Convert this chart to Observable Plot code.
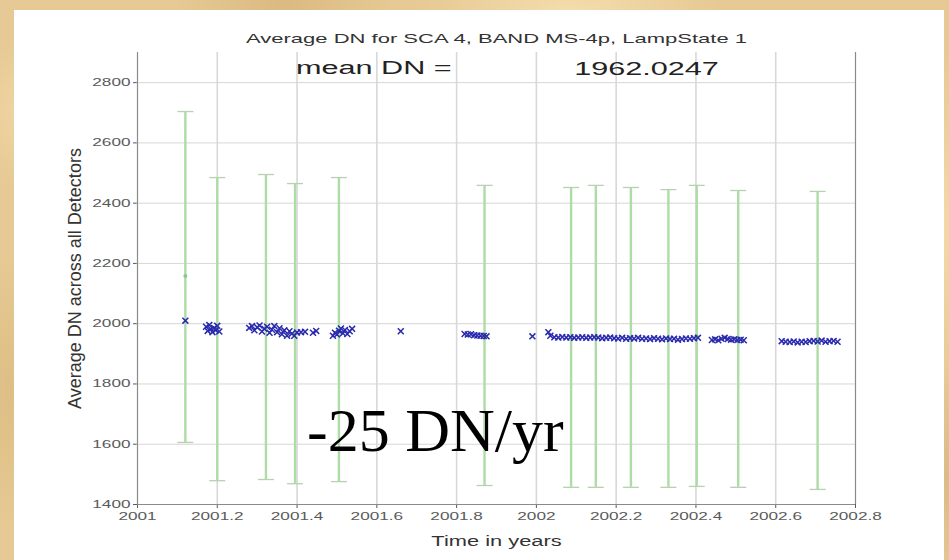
<!DOCTYPE html>
<html>
<head>
<meta charset="utf-8">
<script src="https://cdn.jsdelivr.net/npm/d3@7"></script>
<script src="https://cdn.jsdelivr.net/npm/@observablehq/plot@0.6"></script>
<style>
  html, body { margin: 0; padding: 0; }
  body {
    width: 949px; height: 560px; overflow: hidden; position: relative;
    background-color: #e6c994;
    background-image:
      radial-gradient(ellipse 180px 120px at 8% 20%, rgba(250,228,180,0.7), transparent 70%),
      radial-gradient(ellipse 140px 200px at 3% 70%, rgba(214,180,120,0.6), transparent 70%),
      radial-gradient(ellipse 220px 90px at 60% 2%, rgba(248,226,178,0.8), transparent 70%),
      radial-gradient(ellipse 160px 100px at 30% 1%, rgba(210,176,118,0.6), transparent 70%),
      radial-gradient(ellipse 90px 240px at 99% 40%, rgba(246,222,172,0.8), transparent 70%),
      radial-gradient(ellipse 80px 160px at 100% 85%, rgba(212,178,122,0.6), transparent 70%);
  }
  #panel { position: absolute; left: 14px; top: 10px; width: 930px; height: 550px; background: #ffffff; }
  #chart { position: absolute; left: 0; top: 0; }
</style>
</head>
<body>
<div id="panel"></div>
<div id="chart"></div>
<script>
// ---------- data ----------
const titleText = "Average DN for SCA 4, BAND MS-4p, LampState 1";
const xLabelText = "Time in years";
const yLabelText = "Average DN across all Detectors";
const meanLabelText = "mean DN =";
const meanDN = 1962.0247;
const rateText = "-25 DN/yr";

const xDomain = [2001, 2002.8];
const yDomain = [1400, 2900];
const xTicks = [2001, 2001.2, 2001.4, 2001.6, 2001.8, 2002, 2002.2, 2002.4, 2002.6, 2002.8];
const xTickLabels = ["2001", "2001.2", "2001.4", "2001.6", "2001.8", "2002", "2002.2", "2002.4", "2002.6", "2002.8"];
const yTicks = [1400, 1600, 1800, 2000, 2200, 2400, 2600, 2800];
const yTickLabels = ["1400", "1600", "1800", "2000", "2200", "2400", "2600", "2800"];

// error bars (green)
const errT   = [2001.12, 2001.20, 2001.322, 2001.395, 2001.505, 2001.87, 2002.087, 2002.149, 2002.237, 2002.331, 2002.402, 2002.506, 2002.705];
const errMid = [2158, 1982, 1990, 1969, 1981, 1960, 1953, 1956, 1953, 1950, 1958, 1948, 1944];
const errHi  = [2704, 2485, 2495, 2465, 2485, 2459, 2452, 2459, 2452, 2445, 2459, 2442, 2439];
const errLo  = [1606, 1479, 1483, 1469, 1476, 1463, 1457, 1457, 1457, 1457, 1460, 1457, 1450];

// individual measurements (blue)
const ptT = [
  2001.120,
  2001.172, 2001.176, 2001.180, 2001.184, 2001.188, 2001.192, 2001.196, 2001.200, 2001.205,
  2001.280, 2001.287, 2001.293, 2001.300, 2001.306, 2001.312, 2001.318, 2001.325, 2001.331, 2001.337,
  2001.343, 2001.350, 2001.356, 2001.362, 2001.368, 2001.375, 2001.381, 2001.387, 2001.393, 2001.400,
  2001.410, 2001.420, 2001.440, 2001.448,
  2001.490, 2001.495, 2001.500, 2001.505, 2001.510, 2001.515, 2001.520, 2001.526, 2001.532, 2001.538,
  2001.660,
  2001.820, 2001.828, 2001.836, 2001.844, 2001.852, 2001.860, 2001.868, 2001.875,
  2001.990,
  2002.030, 2002.035, 2002.045, 2002.055, 2002.065, 2002.075, 2002.085, 2002.095, 2002.105, 2002.115,
  2002.125, 2002.135, 2002.145, 2002.155, 2002.165, 2002.175, 2002.185, 2002.195, 2002.205, 2002.215,
  2002.225, 2002.235, 2002.245, 2002.255, 2002.265, 2002.275, 2002.285, 2002.295, 2002.305, 2002.315,
  2002.325, 2002.335, 2002.345, 2002.355, 2002.365, 2002.375, 2002.385, 2002.395, 2002.405,
  2002.440, 2002.448, 2002.456, 2002.464, 2002.472, 2002.480, 2002.488, 2002.496, 2002.504, 2002.512, 2002.520,
  2002.615, 2002.625, 2002.635, 2002.645, 2002.655, 2002.665, 2002.675, 2002.685, 2002.695, 2002.705,
  2002.715, 2002.725, 2002.735, 2002.745, 2002.755
];
const ptV = [
  2010,
  1990, 1976, 1996, 1982, 1972, 1986, 1978, 1993, 1974,
  1986, 1992, 1978, 1988, 1994, 1974, 1983, 1990, 1970, 1980,
  1992, 1972, 1985, 1965, 1978, 1960, 1975, 1967, 1960, 1971,
  1972, 1973, 1970, 1976,
  1960, 1970, 1964, 1977, 1984, 1968, 1979, 1966, 1975, 1983,
  1975,
  1966, 1964, 1965, 1962, 1961, 1960, 1959, 1958,
  1958,
  1972, 1960, 1955, 1954, 1956, 1954, 1955, 1953, 1954, 1955,
  1953, 1954, 1955, 1954, 1952, 1953, 1954, 1952, 1951, 1953,
  1950, 1952, 1951, 1953, 1950, 1951, 1949, 1952, 1950, 1948,
  1951, 1949, 1950, 1947, 1949, 1951, 1950, 1952, 1953,
  1946, 1948, 1945, 1950, 1953, 1949, 1947, 1948, 1946, 1947, 1945,
  1942, 1940, 1939, 1941, 1938, 1940, 1939, 1942, 1943, 1941,
  1944, 1940, 1942, 1943, 1940
];

// annotation positions (data coordinates)
const meanLabelX = 2001.5925, meanLabelY = 2847;
const meanValueX = 2002.276,  meanValueY = 2846;
const rateX = 2001.425, rateY = 1645;

// ---------- build ----------
const errRows = errT.map((t, i) => ({t, mid: errMid[i], lo: errLo[i], hi: errHi[i]}));
const pts = ptT.map((t, i) => ({t, v: ptV[i]}));
const capSymbol = {
  draw(ctx, size) { const r = Math.sqrt(size / Math.PI); ctx.moveTo(-r, 0); ctx.lineTo(r, 0); }
};

const svg = Plot.plot({
  width: 949,
  height: 560,
  marginLeft: 137,
  marginRight: 94,
  marginTop: 52,
  marginBottom: 56,
  style: {background: "transparent", fontFamily: "'Liberation Sans', Arial, sans-serif", fontSize: "11px", color: "#5a5a5a"},
  x: {domain: xDomain, ticks: xTicks, tickFormat: d => xTickLabels[xTicks.indexOf(d)], tickSize: 4, tickPadding: 4, label: null},
  y: {domain: yDomain, ticks: yTicks, tickFormat: d => yTickLabels[yTicks.indexOf(d)], tickSize: 4, tickPadding: 3, label: null},
  marks: [
    Plot.ruleY(yTicks, {stroke: "#d6d6d6", strokeWidth: 1}),
    Plot.ruleX(xTicks, {stroke: "#d8d8d8", strokeWidth: 1.6}),
    Plot.ruleX(errRows, {x: "t", y1: "lo", y2: "hi", stroke: "#addcA6", strokeWidth: 2.4}),
    Plot.dot(errRows, {x: "t", y: "hi", symbol: capSymbol, r: 8, stroke: "#b6d2b0", fill: "none", strokeWidth: 1.3}),
    Plot.dot(errRows, {x: "t", y: "lo", symbol: capSymbol, r: 8, stroke: "#b6d2b0", fill: "none", strokeWidth: 1.3}),
    Plot.dot(errRows, {x: "t", y: "mid", r: 2, fill: "#8fc98a", stroke: "none"}),
    Plot.dot(pts, {x: "t", y: "v", symbol: "times", r: 2.8, stroke: "#2a2aae", strokeWidth: 1.5}),
    Plot.ruleY([yDomain[0]], {stroke: "#8a8a8a", strokeWidth: 1}),
    Plot.ruleX(xDomain, {stroke: "#8a8a8a", strokeWidth: 1}),
    Plot.text([titleText], {frameAnchor: "top", dy: -19, fontSize: 13.5, fill: "#333"}),
    Plot.text([meanLabelText], {x: [meanLabelX], y: [meanLabelY], fontSize: 18, fill: "#222"}),
    Plot.text([d3.format(".4f")(meanDN)], {x: [meanValueX], y: [meanValueY], fontSize: 18, fill: "#222"}),
    Plot.text([xLabelText], {frameAnchor: "bottom", dy: 41, fontSize: 14, fill: "#333"}),
    Plot.text([yLabelText], {frameAnchor: "left", textAnchor: "middle", dx: -62, rotate: -90, fontSize: 18, fill: "#333"}),
    Plot.text([rateText], {x: [rateX], y: [rateY], textAnchor: "start", fontSize: 62, fontFamily: "'Liberation Serif', 'Times New Roman', serif", fill: "#000"})
  ]
});
document.getElementById("chart").append(svg);

// the original MATLAB figure was stretched horizontally: widen its texts
const noStretch = new Set([rateText, yLabelText]);
const factors = new Map([[meanLabelText, 1.7], [d3.format(".4f")(meanDN), 1.7], [titleText, 1.63]]);
svg.querySelectorAll("text").forEach(t => {
  const s = t.textContent;
  if (noStretch.has(s) || t.querySelector("tspan")) return;
  const len = t.getComputedTextLength();
  if (!len) return;
  const k = factors.get(s) || 1.56;
  t.setAttribute("textLength", (len * k).toFixed(1));
  t.setAttribute("lengthAdjust", "spacingAndGlyphs");
});
</script>
</body>
</html>
